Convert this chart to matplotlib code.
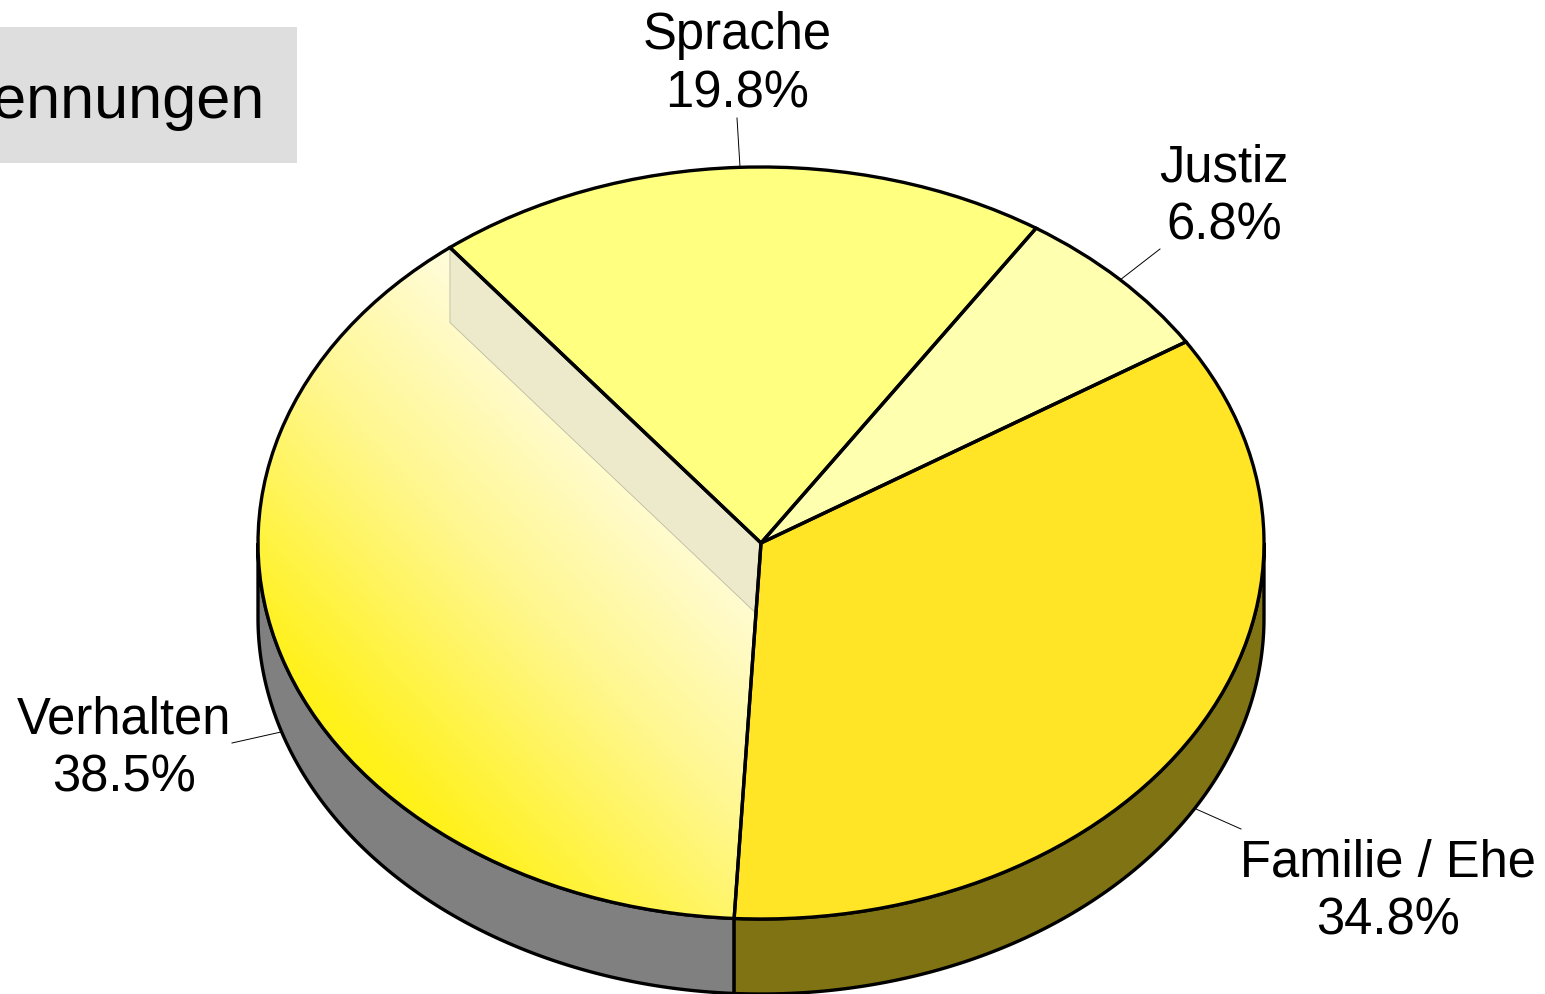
"""3D-looking pie chart of Nennungen, drawn on top of a plain matplotlib pie."""

import numpy as np
import matplotlib
matplotlib.use('Agg')
import matplotlib.pyplot as plt
from matplotlib.colors import LinearSegmentedColormap
from matplotlib.patches import Polygon, Rectangle

plt.rcParams['font.family'] = ['Liberation Sans', 'DejaVu Sans']

# Data, counterclockwise from the start angle
categories = ['Verhalten', 'Familie / Ehe', 'Justiz', 'Sprache']
shares = [38.5, 34.8, 6.8, 19.8]
title_text = 'Nennungen'

top_colors = ['#FFF000', '#FFE526', '#FFFFB0', '#FFFF80']
side_colors = ['#808080', '#807313', '#808058', '#808040']

W, H = 1545, 994
CX, CY = 761, 543      # centre of the top ellipse, pixels
RX, RY = 503, 376      # ellipse radii, pixels
DEPTH = 75             # wall height, pixels
START = 128.2

# label centre and leader line, pixels
label_pos = [(124, 749), (1388, 892), (1224, 197), (737, 65)]
leaders = [((232, 743), (281, 732)), ((1241, 829), (1196, 809)),
           ((1160, 249), (1120, 280)), ((737, 118), (740, 167))]

fig = plt.figure(figsize=(W / 100, H / 100), dpi=100)

# Unit-circle axes stretched to the ellipse
ax = fig.add_axes([0, 0, 1, 1])
wedges, _ = ax.pie(shares, colors=top_colors, startangle=START, radius=1,
                   wedgeprops={'linewidth': 0, 'zorder': 1})
depth = DEPTH / RY


def rim(angle):
    a = np.radians(angle)
    return np.cos(a), np.sin(a)


# Walls of the visible front part
for wedge, color in zip(wedges, side_colors):
    lo = max(wedge.theta1, 180)
    hi = min(wedge.theta2, 360)
    if hi <= lo:
        continue
    t = np.linspace(lo, hi, 200)
    x, y = rim(t)
    pts = np.r_[np.c_[x, y], np.c_[x, y - depth][::-1]]
    ax.add_patch(Polygon(pts, closed=True, facecolor=color, edgecolor='black',
                         linewidth=2.4, zorder=0.5, clip_on=False))

# Gradient fill of the biggest slice, pale along its first edge
gx, gy = np.meshgrid(np.linspace(0, W, 500), np.linspace(0, H, 400))
ex, ey = rim(START)
normal = np.array([-0.72, 0.69])
dist = (gx - CX) * normal[0] + (gy - CY) * normal[1]
fade = LinearSegmentedColormap.from_list('fade', ['#FFFDE6', '#FFF78C', '#FFF11A'])
x_lim = (-CX / RX, (W - CX) / RX)
y_lim = ((CY - H) / RY, CY / RY)
img = ax.imshow(np.clip(dist / 430, 0, 1), cmap=fade, vmin=0, vmax=1, aspect='auto',
                extent=(x_lim[0], x_lim[1], y_lim[0], y_lim[1]), origin='upper', zorder=2)
img.set_clip_path(wedges[0])

# The wall of the next slice showing through the gradient
band = Polygon([(ex, ey), (ex, ey - depth), (0, -depth), (0, 0)], closed=True,
               facecolor='#EDEACC', edgecolor='#BDBBA0', linewidth=0.6, zorder=3)
ax.add_patch(band)
band.set_clip_path(wedges[0])

# Outlines on top of everything
ax.pie(shares, colors=['none'] * len(shares), startangle=START, radius=1,
       wedgeprops={'linewidth': 2.4, 'edgecolor': 'black', 'zorder': 4})
ax.set_aspect('auto')
ax.set_xlim(*x_lim)
ax.set_ylim(*y_lim)
ax.axis('off')

# Pixel axes for the box, labels and leader lines
over = fig.add_axes([0, 0, 1, 1], facecolor='none')
over.set_xlim(0, W)
over.set_ylim(H, 0)
over.axis('off')

over.add_patch(Rectangle((0, 27), 297, 136, facecolor='#DEDEDE', edgecolor='none'))
over.text(264, 118, title_text, fontsize=44, ha='right', va='baseline', color='black')

for name, share, pos, line in zip(categories, shares, label_pos, leaders):
    over.text(pos[0], pos[1], f'{name}\n{share}%', fontsize=36.5, ha='center', va='center',
              linespacing=1.25, color='black')
    over.plot(*zip(*line), color='black', linewidth=0.7)

fig.savefig('out.png', dpi=100)
